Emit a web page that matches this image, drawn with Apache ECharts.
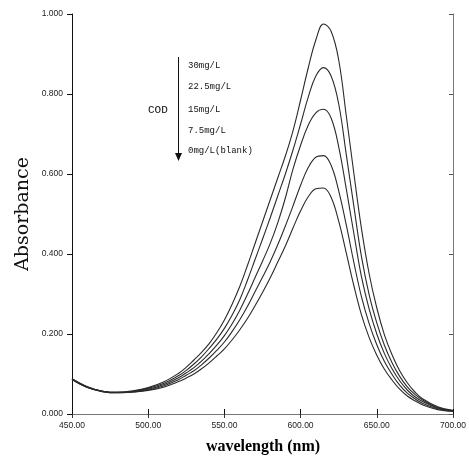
<!DOCTYPE html>
<html>
<head>
<meta charset="utf-8">
<script src="https://cdn.jsdelivr.net/npm/echarts@6/dist/echarts.min.js"></script>
<style>html,body{margin:0;padding:0;background:#fff;}#c{width:469px;height:463px;}</style>
</head>
<body>
<div id="c"></div>
<script>
var wavelengths = [450,460,470,480,490,500,510,520,525,530,535,540,545,550,555,560,565,570,575,580,585,590,595,600,605,610,615,620,625,630,635,640,645,650,655,660,665,670,675,680,690,700];
var cod30  = [0.088,0.068,0.057,0.054,0.058,0.066,0.080,0.102,0.117,0.135,0.154,0.176,0.203,0.235,0.274,0.318,0.370,0.425,0.480,0.535,0.590,0.645,0.708,0.785,0.865,0.935,0.975,0.957,0.885,0.745,0.600,0.462,0.350,0.265,0.198,0.148,0.108,0.078,0.055,0.038,0.018,0.009];
var cod225 = [0.088,0.068,0.057,0.054,0.057,0.064,0.076,0.096,0.109,0.125,0.143,0.164,0.187,0.214,0.247,0.285,0.333,0.385,0.437,0.490,0.545,0.600,0.660,0.725,0.792,0.845,0.866,0.845,0.775,0.648,0.518,0.392,0.298,0.228,0.172,0.128,0.094,0.068,0.049,0.035,0.016,0.008];
var cod15  = [0.087,0.067,0.057,0.054,0.056,0.062,0.073,0.091,0.103,0.116,0.132,0.151,0.172,0.196,0.225,0.259,0.298,0.340,0.382,0.426,0.478,0.540,0.612,0.672,0.722,0.753,0.762,0.740,0.668,0.562,0.450,0.342,0.262,0.200,0.151,0.113,0.083,0.060,0.043,0.031,0.015,0.008];
var cod75  = [0.087,0.067,0.056,0.053,0.055,0.060,0.070,0.086,0.097,0.108,0.123,0.140,0.159,0.180,0.206,0.235,0.268,0.305,0.342,0.380,0.423,0.470,0.520,0.572,0.616,0.642,0.646,0.622,0.558,0.472,0.378,0.292,0.226,0.173,0.131,0.099,0.072,0.052,0.038,0.027,0.013,0.007];
var blank  = [0.086,0.066,0.056,0.053,0.055,0.059,0.067,0.081,0.090,0.100,0.113,0.128,0.145,0.163,0.185,0.210,0.238,0.270,0.304,0.340,0.380,0.420,0.465,0.508,0.543,0.563,0.565,0.542,0.482,0.402,0.320,0.247,0.191,0.147,0.112,0.085,0.062,0.045,0.033,0.023,0.011,0.007];
var seriesNames = ['30mg/L','22.5mg/L','15mg/L','7.5mg/L','0mg/L(blank)'];
var seriesValues = [cod30, cod225, cod15, cod75, blank];
var xTicks = [450, 500, 550, 600, 650, 700];
var yTicks = [0, 0.2, 0.4, 0.6, 0.8, 1.0];

var chart = echarts.init(document.getElementById('c'), null, {renderer:'canvas'});
function pairs(vals){ return wavelengths.map(function(w,i){ return [w, vals[i]]; }); }
var series = seriesValues.map(function(vals, i){
  return {
    name: seriesNames[i], type:'line', xAxisIndex:0, yAxisIndex:0,
    data: pairs(vals), smooth: 0.4, showSymbol:false, symbol:'none',
    lineStyle:{color:'#2a2a2a', width:1.1}, z: 2
  };
});
var labelFont = {fontFamily:'Liberation Sans, Arial', fontSize:8.5, color:'#222'};
var legendTexts = seriesNames.map(function(n, i){
  return {type:'text', left:188, top:[61,82,105,126,146][i], style:{text:n, font:'9px "Liberation Mono", monospace', fill:'#111'}};
});
chart.setOption({
  animation:false,
  backgroundColor:'#fff',
  grid:{left:72, right:14, top:14, bottom:49},
  xAxis:[{
    type:'value', min:xTicks[0], max:xTicks[xTicks.length-1], interval:50, position:'bottom',
    axisLine:{show:true, lineStyle:{color:'#111', width:1}},
    axisTick:{show:true, inside:true, length:5, lineStyle:{color:'#111'}},
    axisLabel:Object.assign({margin:7, formatter:function(v){return v.toFixed(2);}}, labelFont),
    splitLine:{show:false}
  },{
    type:'value', min:xTicks[0], max:xTicks[xTicks.length-1], interval:50, position:'top',
    axisLine:{show:true, lineStyle:{color:'#777', width:1}},
    axisTick:{show:true, inside:true, length:4, lineStyle:{color:'#333'}},
    axisLabel:{show:false}, splitLine:{show:false}
  }],
  yAxis:[{
    type:'value', min:yTicks[0], max:yTicks[yTicks.length-1], interval:0.2, position:'left',
    axisLine:{show:true, lineStyle:{color:'#111', width:1}},
    axisTick:{show:true, inside:false, length:5, lineStyle:{color:'#111'}},
    axisLabel:Object.assign({margin:9, formatter:function(v){return v.toFixed(3);}}, labelFont),
    splitLine:{show:false}
  },{
    type:'value', min:yTicks[0], max:yTicks[yTicks.length-1], interval:0.2, position:'right',
    axisLine:{show:true, lineStyle:{color:'#777', width:1}},
    axisTick:{show:true, inside:true, length:4, lineStyle:{color:'#555'}},
    axisLabel:{show:false}, splitLine:{show:false}
  }],
  series: series,
  graphic: [
    {type:'text', x:263, y:439, style:{text:'wavelength (nm)', font:'bold 16px "Liberation Serif", "Times New Roman", serif', fill:'#000', align:'center', verticalAlign:'top'}},
    {type:'text', x:14, y:214, rotation:Math.PI/2, style:{text:'Absorbance', font:'19px "DejaVu Serif", serif', fill:'#111', align:'center', verticalAlign:'top'}},
    {type:'text', left:148, top:105, style:{text:'COD', font:'11px "Liberation Mono", monospace', fill:'#111'}},
    {type:'line', shape:{x1:178.5, y1:57, x2:178.5, y2:154}, style:{stroke:'#111', lineWidth:1}},
    {type:'polygon', shape:{points:[[175,153],[182,153],[178.5,161]]}, style:{fill:'#111'}}
  ].concat(legendTexts)
});
</script>
</body>
</html>
